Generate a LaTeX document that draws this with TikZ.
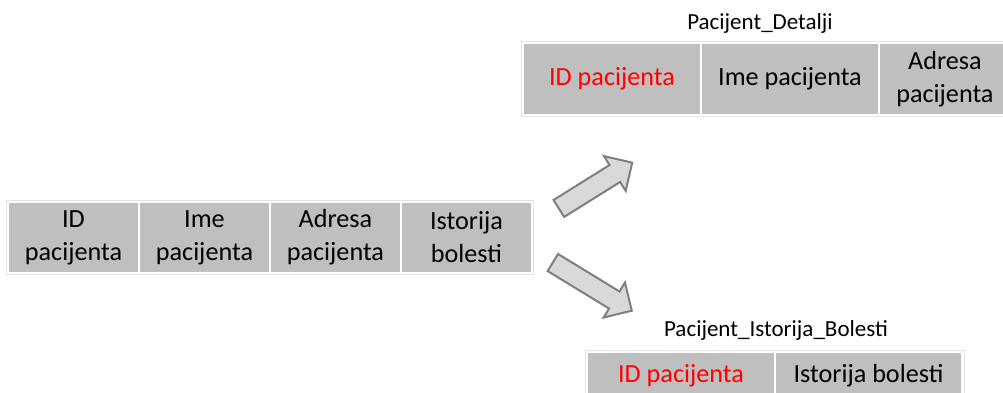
\documentclass[tikz,border=0pt]{standalone}
\usepackage{fontspec}
\setmainfont{Carlito}
\usetikzlibrary{positioning,fit,shapes.arrows}
\definecolor{cellgray}{HTML}{BFBFBF}
\definecolor{framegray}{HTML}{E3E3E3}
\definecolor{arrowfill}{HTML}{D9D9D9}
\definecolor{arrowline}{HTML}{7F7F7F}
\definecolor{keyred}{HTML}{FF0000}

\begin{document}
\begin{tikzpicture}[x = 0.02cm, y = -0.02cm, node distance = 0pt, every text node part/.style = {align = center},
	cell/.style = {fill = cellgray, draw = white, line width = 0.04cm, outer sep = 0pt, inner sep = 0pt, font = \fontsize{14.9}{18.7}\selectfont},
	key/.style = {cell, text = keyred},
	frame/.style = {draw = framegray, line width = 0.02cm, inner sep = 0.04cm},
	title/.style = {font = \fontsize{13.1}{15}\selectfont},
	blockarrow/.style = {single arrow, draw = arrowline, fill = arrowfill, line width = 0.04cm, inner xsep = 0pt, inner ysep = 0.18cm, single arrow head extend = 0.21cm, anchor = tail}]
	\useasboundingbox (0,0) rectangle (1003,392);
	\clip (0,0) rectangle (1003,392);

	% pocetna tabela
	\begin{scope}[every node/.append style = {minimum width = 2.62cm, minimum height = 1.42cm}]
		\node[cell] (p0) at (73.5,237.5) {ID\\ pacijenta};
		\node[cell] (p1) [right = of p0] {Ime\\ pacijenta};
		\node[cell] (p2) [right = of p1] {Adresa\\ pacijenta};
		\node[cell] (p3) [right = of p2] {Istorija\\ bolesti};
	\end{scope}
	\node[frame, fit = (p0) (p3)] (pacijent) {};

	% Pacijent_Detalji
	\node[title] (dTitle) at (760,23) {Pacijent\_Detalji};
	\begin{scope}[every node/.append style = {minimum width = 3.56cm, minimum height = 1.44cm}]
		\node[key] (d0) at (612,79) {ID pacijenta};
		\node[cell] (d1) [right = of d0] {Ime pacijenta};
		\node[cell, minimum width = 2.64cm] (d2) [right = of d1] {Adresa\\ pacijenta};
	\end{scope}
	\node[frame, fit = (d0) (d2)] (detalji) {};

	% Pacijent_Istorija_Bolesti
	\node[title] (hTitle) at (776,330) {Pacijent\_Istorija\_Bolesti};
	\begin{scope}[every node/.append style = {minimum width = 3.75cm, minimum height = 0.96cm}]
		\node[key] (h0) at (681,376) {ID pacijenta};
		\node[cell] (h1) [right = of h0] {Istorija bolesti};
	\end{scope}
	\node[frame, fit = (h0) (h1)] (istorija) {};

	% strelice
	\node[blockarrow, minimum height = 1.73cm, rotate = 32] (upArrow) at (558,209) {};
	\node[blockarrow, minimum height = 1.85cm, rotate = -31.4] (downArrow) at (552,262) {};
\end{tikzpicture}
\end{document}
